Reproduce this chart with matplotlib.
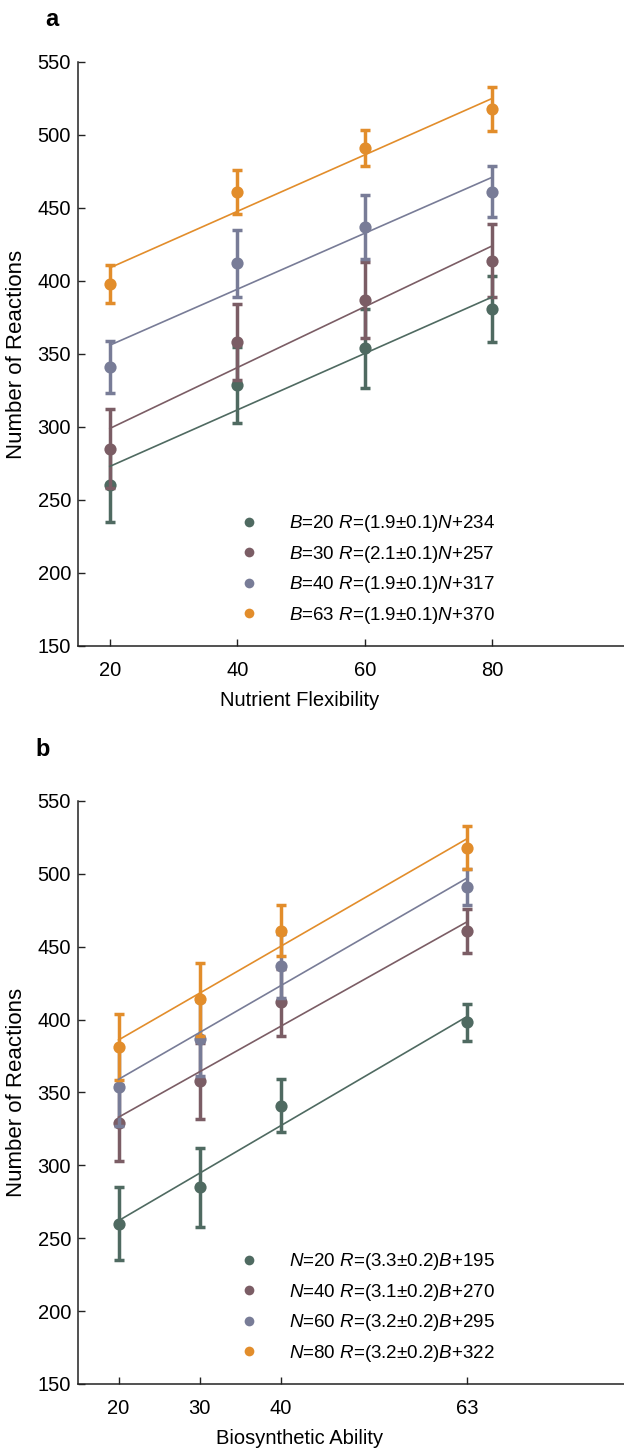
import numpy as np
import matplotlib
matplotlib.use('Agg')
import matplotlib.pyplot as plt
from matplotlib.lines import Line2D

# data: mean number of reactions, rows = B (biosynthetic ability), cols = N (nutrient flexibility)
B_vals = [20, 30, 40, 63]
N_vals = [20, 40, 60, 80]
means = np.array([[260, 329, 354, 381],
                  [285, 358, 387, 414],
                  [341, 412, 437, 461],
                  [398, 461, 491, 518]])
errs = np.array([[25, 26, 27, 22.5],
                 [27, 26, 26, 25],
                 [18, 23, 22, 17.5],
                 [13, 15, 12.5, 15]])

# fitted lines, values read at the ends of each line
fit_a_lo = [273, 299, 356, 409]   # at N=20
fit_a_hi = [389, 424, 471, 525]   # at N=80
fit_b_lo = [262, 333, 359, 386]   # at B=20
fit_b_hi = [402, 467, 497, 524]   # at B=63

labels_a = ['$B$=20 $R$=(1.9±0.1)$N$+234',
            '$B$=30 $R$=(2.1±0.1)$N$+257',
            '$B$=40 $R$=(1.9±0.1)$N$+317',
            '$B$=63 $R$=(1.9±0.1)$N$+370']
labels_b = ['$N$=20 $R$=(3.3±0.2)$B$+195',
            '$N$=40 $R$=(3.1±0.2)$B$+270',
            '$N$=60 $R$=(3.2±0.2)$B$+295',
            '$N$=80 $R$=(3.2±0.2)$B$+322']

colors = ['#4f6a61', '#7b5d65', '#787c97', '#e28d2b']

plt.rcParams['font.family'] = ['Liberation Sans', 'DejaVu Sans']
plt.rcParams['mathtext.fontset'] = 'custom'
plt.rcParams['mathtext.rm'] = 'Liberation Sans'
plt.rcParams['mathtext.it'] = 'Liberation Sans:italic'
plt.rcParams['font.size'] = 13.5

fig = plt.figure(figsize=(6.24, 14.51), dpi=100)
ax_a = fig.add_axes([0.125, 0.5548, 0.875, 0.4025])
ax_b = fig.add_axes([0.125, 0.0462, 0.875, 0.4018])


def style_axis(ax, xlim, xticks, xlabel, labels):
    ax.set_xlim(*xlim)
    ax.set_ylim(150, 550)
    ax.set_xticks(xticks)
    ax.set_yticks(np.arange(150, 551, 50))
    for s in ['top', 'right']:
        ax.spines[s].set_visible(False)
    for s in ['left', 'bottom']:
        ax.spines[s].set_linewidth(1.1)
        ax.spines[s].set_color('#222222')
    ax.tick_params(direction='in', length=5, width=1.0, color='#222222',
                   labelsize=14.5)
    ax.tick_params(axis='x', pad=11)
    ax.tick_params(axis='y', pad=5)
    ax.set_xlabel(xlabel, fontsize=14.5)
    ax.set_ylabel('Number of Reactions', fontsize=16)
    ax.xaxis.set_label_coords(0.4066, -0.077)
    ax.yaxis.set_label_coords(-0.093, 0.5)
    handles = [Line2D([], [], ls='none', marker='o', ms=7, color=c,
                      markeredgewidth=0) for c in colors]
    ax.legend(handles, labels, loc='lower left', bbox_to_anchor=(0.27, 0.019),
              frameon=False, handletextpad=1.4, labelspacing=0.5,
              handlelength=1.5, borderpad=0, fontsize=13.5)


def draw_series(ax, x, y, e, c, lo, hi):
    ax.errorbar(x, y, yerr=e, fmt='none', ecolor=c, elinewidth=2.5,
                capsize=3.8, capthick=2.5, zorder=3)
    ax.plot(x, y, 'o', color=c, ms=8.8, mew=0, zorder=3)
    ax.plot([x[0], x[-1]], [lo, hi], color=c, lw=1.2, zorder=4)


# panel a: x = nutrient flexibility, one series per B
for i in range(4):
    draw_series(ax_a, N_vals, means[i], errs[i], colors[i], fit_a_lo[i], fit_a_hi[i])
style_axis(ax_a, (15, 100.7), N_vals, 'Nutrient Flexibility', labels_a)

# panel b: x = biosynthetic ability, one series per N
for j in range(4):
    draw_series(ax_b, B_vals, means[:, j], errs[:, j], colors[j], fit_b_lo[j], fit_b_hi[j])
style_axis(ax_b, (15, 82.4), B_vals, 'Biosynthetic Ability', labels_b)

fig.text(52 / 624, 1 - 20 / 1451, 'a', fontsize=17, fontweight='bold',
         ha='center', va='center')
fig.text(43 / 624, 1 - 750 / 1451, 'b', fontsize=17, fontweight='bold',
         ha='center', va='center')

plt.savefig('out.png', dpi=100)
